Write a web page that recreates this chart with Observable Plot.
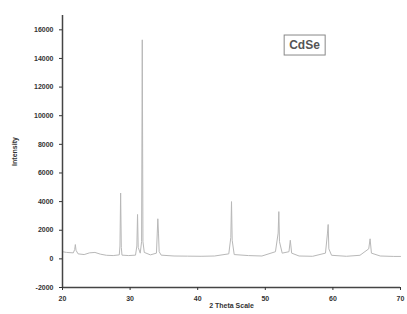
<!DOCTYPE html>
<html>
<head>
<meta charset="utf-8">
<script src="https://cdn.jsdelivr.net/npm/d3@7"></script>
<script src="https://cdn.jsdelivr.net/npm/@observablehq/plot@0.6"></script>
<style>
  html, body { margin: 0; padding: 0; background: #fff; }
  #chart { width: 407px; height: 314px; }
</style>
</head>
<body>
<div id="chart"></div>
<script>
const twoTheta = [20, 20.6, 21.6, 21.8, 21.9, 22.0, 22.3, 23.2, 24.0, 24.8, 25.6, 26.5, 27.5, 28.4, 28.5, 28.6, 28.7, 28.8, 29.8, 30.8, 31.0, 31.1, 31.2, 31.5, 31.7, 31.8, 31.9, 32.1, 33.0, 33.9, 34.1, 34.2, 34.3, 34.6, 36.5, 38.5, 40.5, 42.5, 44.6, 44.9, 45.0, 45.1, 45.4, 47.5, 49.5, 51.5, 51.9, 52.0, 52.1, 52.5, 53.5, 53.7, 53.9, 55.0, 57.0, 58.9, 59.2, 59.3, 59.4, 59.8, 62.0, 64.0, 65.3, 65.5, 65.7, 67.0, 69.0, 70.0];
const intensity = [500, 450, 420, 650, 1000, 600, 350, 300, 420, 450, 330, 250, 230, 280, 900, 4600, 800, 260, 230, 260, 900, 3100, 800, 400, 1200, 15300, 1200, 450, 280, 400, 2800, 1800, 500, 260, 200, 190, 180, 200, 350, 1500, 4000, 1300, 300, 230, 200, 500, 1800, 3300, 1200, 400, 500, 1300, 400, 200, 180, 400, 1800, 2400, 700, 250, 180, 250, 700, 1400, 400, 200, 170, 170];
const yTicks = [-2000, 0, 2000, 4000, 6000, 8000, 10000, 12000, 14000, 16000];
const xTicks = [20, 30, 40, 50, 60, 70];
const sampleLabel = "CdSe";

const data = twoTheta.map((t, i) => ({t, v: intensity[i]}));

const chart = Plot.plot({
  width: 407,
  height: 314,
  marginLeft: 62,
  marginRight: 7,
  marginTop: 15,
  marginBottom: 27,
  style: {fontFamily: "Liberation Sans, Arial, sans-serif", fontSize: "7px", color: "#333", background: "#fff"},
  x: {domain: [20, 70]},
  y: {domain: [-2000, 17000]},
  marks: [
    Plot.line(data, {x: "t", y: "v", stroke: "#b8b8b8", strokeWidth: 1}),
    Plot.ruleX([20], {stroke: "#444", strokeWidth: 1.5}),
    Plot.ruleY([-2000], {stroke: "#444", strokeWidth: 1.5}),
    Plot.axisX({ticks: xTicks, tickSize: 3, fontSize: 7, fontWeight: "bold", tickFormat: d => String(d), label: "2 Theta Scale", labelAnchor: "center", labelArrow: "none", labelOffset: 20}),
    Plot.axisY({ticks: yTicks, tickSize: 3, fontSize: 7, fontWeight: "bold", tickFormat: d => String(d), label: "Intensity", labelAnchor: "center", labelArrow: "none", labelOffset: 50}),
    Plot.text([sampleLabel], {frameAnchor: "top-left", dx: 242, dy: 25, text: d => d, fontSize: 12, fontWeight: "bold", fill: "#555", textAnchor: "middle", className: "sample-label"})
  ]
});
document.getElementById("chart").appendChild(chart);

// box around sample label
const txt = chart.querySelector(".sample-label text");
if (txt) {
  const bb = txt.getBBox();
  const rect = document.createElementNS("http://www.w3.org/2000/svg", "rect");
  const t = txt.getAttribute("transform");
  rect.setAttribute("x", bb.x - 5);
  rect.setAttribute("y", bb.y - 3);
  rect.setAttribute("width", bb.width + 10);
  rect.setAttribute("height", bb.height + 6);
  if (t) rect.setAttribute("transform", t);
  rect.setAttribute("fill", "none");
  rect.setAttribute("stroke", "#888");
  rect.setAttribute("stroke-width", "1");
  txt.parentNode.insertBefore(rect, txt);
}
</script>
</body>
</html>
